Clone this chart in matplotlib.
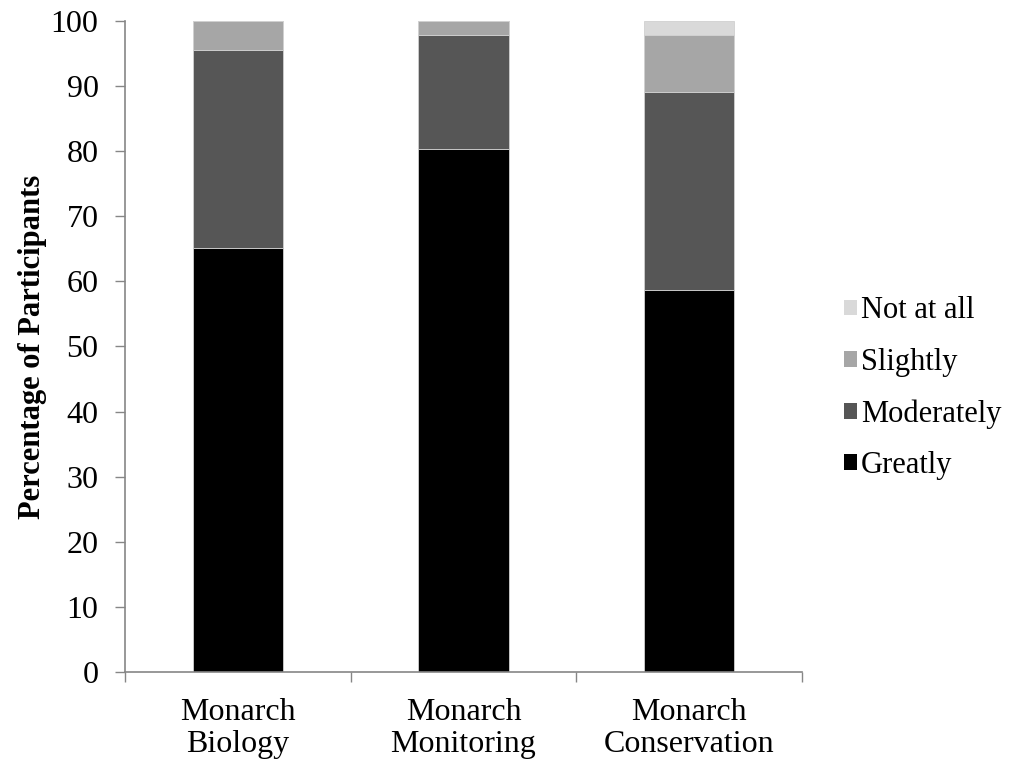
import numpy as np
import matplotlib
matplotlib.use("Agg")
import matplotlib.pyplot as plt
from matplotlib.patches import Patch

plt.rcParams["font.family"] = ["Liberation Serif", "DejaVu Serif"]

# ============================================================
# DATA (percent of participants)
# ============================================================
categories = ["Monarch\nBiology", "Monarch\nMonitoring", "Monarch\nConservation"]
greatly    = [65.2, 80.4, 58.7]
moderately = [30.4, 17.4, 30.4]
slightly   = [4.4, 2.2, 8.7]
not_at_all = [0.0, 0.0, 2.2]

series = [
    ("Greatly",    greatly,    "#000000"),
    ("Moderately", moderately, "#565656"),
    ("Slightly",   slightly,   "#a6a6a6"),
    ("Not at all", not_at_all, "#d9d9d9"),
]

# ============================================================
# PLOT
# ============================================================
fig = plt.figure(figsize=(10.21, 7.67), dpi=100)
ax = fig.add_axes([0.1224, 0.1239, 0.6631, 0.8487])

x = np.arange(len(categories))
bottom = np.zeros(len(categories))
for name, vals, color in series:
    ax.bar(x, vals, 0.4, bottom=bottom, color=color, edgecolor="#d0d0d0",
           linewidth=0.6, label=name)
    bottom += np.array(vals)

ax.set_xlim(-0.5, len(categories) - 0.5)
ax.set_ylim(0, 100)
ax.set_yticks(range(0, 101, 10))
ax.tick_params(axis="y", labelsize=23, length=7, width=1, color="#868686", pad=12)

ax.set_xticks(x)
ax.set_xticklabels(categories, fontsize=23, linespacing=1.12)
ax.tick_params(axis="x", length=0, pad=19)
ax.set_xticks(np.arange(-0.5, len(categories)), minor=True)
ax.tick_params(axis="x", which="minor", length=7, width=1, color="#868686")

for side in ("top", "right"):
    ax.spines[side].set_visible(False)
for side in ("left", "bottom"):
    ax.spines[side].set_color("#868686")
    ax.spines[side].set_linewidth(1.2)

ax.set_ylabel("Percentage of Participants", fontsize=22, fontweight="bold", labelpad=3)

handles = [Patch(facecolor=c, edgecolor="none", label=n) for n, _, c in reversed(series)]
fig.legend(handles=handles, loc="center left", bbox_to_anchor=(0.80, 0.494),
           frameon=False, fontsize=22, handlelength=0.42, handleheight=0.42,
           handletextpad=0.12, labelspacing=0.73)

plt.savefig("out.png", dpi=100)
